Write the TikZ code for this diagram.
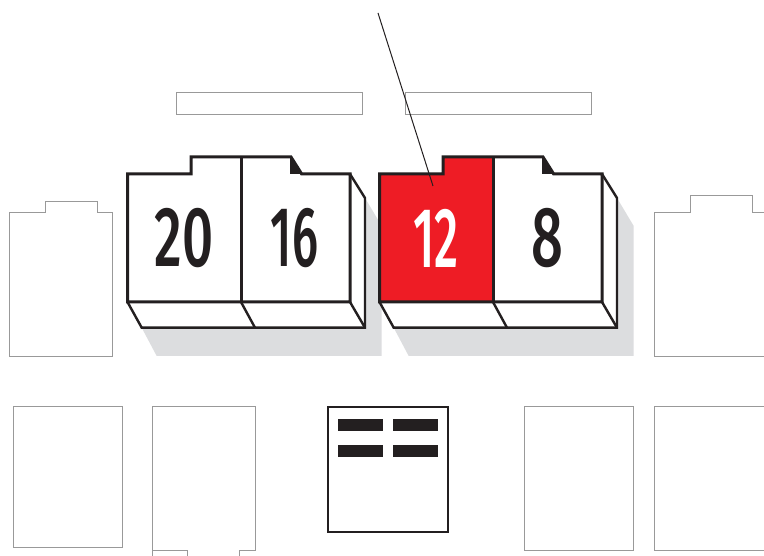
\documentclass[tikz,border=0pt]{standalone}
\usepackage{fontspec}
\setmainfont{Fira Sans}[UprightFont=* Medium]
\definecolor{inkk}{HTML}{231F20}
\definecolor{shadowgrey}{HTML}{DCDDDF}
\definecolor{redd}{HTML}{EE1C25}
\definecolor{ghostgrey}{HTML}{999999}
\tikzset{
  ghost/.style={draw=ghostgrey,line width=0.9pt,fill=white,line join=miter},
  heavy/.style={draw=inkk,line width=3pt,line join=miter},
  medium/.style={draw=inkk,line width=2.4pt,line join=miter},
  numeral/.style={font=\fontsize{85}{85}\selectfont,text=inkk,inner sep=0pt,xscale=0.64,anchor=center},
  bar/.style={fill=inkk,draw=none},
}
\newcommand{\keypair}[2]{%
 \begin{scope}[xshift=#1]
  \fill[shadowgrey] (365,198) -- (381.7,226) -- (381.7,356) -- (156.7,356) -- (141.7,327.7) -- cycle;
  \fill[white] (127.5,174) -- (191,174) -- (191,157) -- (291,157) -- (301.7,174) -- (350,174) -- (365,198) -- (365,327.7) -- (141.7,327.7) -- (127.5,302) -- cycle;
  \fill[#2] (127.5,174) -- (191,174) -- (191,157) -- (241,157) -- (241,302) -- (127.5,302) -- cycle;
  \fill[inkk] (290,157) -- (291.5,157) -- (302,174) -- (290,174) -- cycle;
  \draw[heavy] (127.5,302) -- (127.5,174) -- (191,174) -- (191,157) -- (291,157) -- (301.7,174) -- (350,174) -- (350,302) -- cycle;
  \draw[heavy] (241,157) -- (241,302);
  \draw[medium] (350,174) -- (365,198) -- (365,327.7) -- (141.7,327.7) -- (127.5,302);
  \draw[medium] (241,302) -- (255,327.7);
  \draw[medium] (350,302) -- (365,327.7);
 \end{scope}}
\begin{document}
\begin{tikzpicture}[x=1pt,y=-1pt]
\useasboundingbox (0,0) rectangle (764,556);
\clip (0,0) rectangle (764,556);
\fill[white] (0,0) rectangle (764,556);
\draw[ghost] (176,92) rectangle (362,114);
\draw[ghost] (405,92) rectangle (591,114);
\draw[ghost] (9.3,356) -- (9.3,212.3) -- (45,212.3) -- (45,201.3) -- (97,201.3) -- (97,212.3) -- (112.7,212.3) -- (112.7,356) -- cycle;
\draw[ghost] (654.3,356) -- (654.3,212.3) -- (690.3,212.3) -- (690.3,195) -- (752,195) -- (752,212.3) -- (770,212.3) -- (770,356) -- cycle;
\keypair{0pt}{white}
\keypair{252pt}{redd}
\node[numeral] (n20) at (184,238.5) {20};
\node[numeral,xscale=0.87] (n16) at (294.5,238.5) {16};
\node[numeral,text=white,xscale=0.87] (n12) at (436,238.5) {12};
\node[numeral,xscale=1.03] (n8) at (547,238.5) {8};
\coordinate (leadA) at (378,13);
\coordinate (leadB) at (433,186);
\draw[inkk,line width=1pt] (leadA) -- (leadB);
\draw[ghost] (13.3,406.7) rectangle (122.3,547);
\draw[ghost] (152,560) -- (152,406.7) -- (255.3,406.7) -- (255.3,550.7) -- (239.3,550.7) -- (239.3,560);
\draw[ghost] (152,550.7) -- (187.7,550.7) -- (187.7,560);
\draw[ghost] (524.3,406.7) rectangle (633.7,550);
\draw[ghost] (770,406.7) -- (654.3,406.7) -- (654.3,550) -- (770,550);
\draw[inkk,line width=2pt] (327.7,407.3) rectangle (448,531.7);
\fill[bar] (338,419) rectangle (383,431);
\fill[bar] (393,419) rectangle (438,431);
\fill[bar] (338,445) rectangle (383,457);
\fill[bar] (393,445) rectangle (438,457);
\end{tikzpicture}
\end{document}
